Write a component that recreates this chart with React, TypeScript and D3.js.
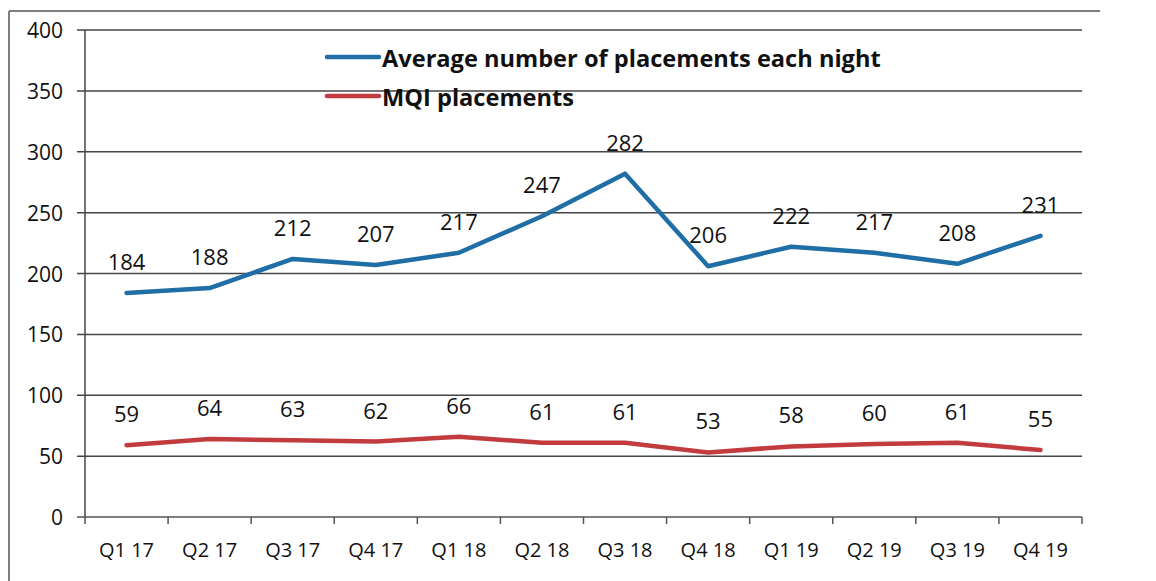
import * as d3 from "d3";

const quarters = ["Q1 17", "Q2 17", "Q3 17", "Q4 17", "Q1 18", "Q2 18", "Q3 18", "Q4 18", "Q1 19", "Q2 19", "Q3 19", "Q4 19"];
const avgPlacements = [184, 188, 212, 207, 217, 247, 282, 206, 222, 217, 208, 231];
const mqiPlacements = [59, 64, 63, 62, 66, 61, 61, 53, 58, 60, 61, 55];
const yTicks = [0, 50, 100, 150, 200, 250, 300, 350, 400];

const series = [
  { name: "Average number of placements each night", values: avgPlacements, color: "#1f6ea6" },
  { name: "MQI placements", values: mqiPlacements, color: "#c23b3e" },
];

const W = 1156;
const H = 581;
const FONT = "'Open Sans', Lato, 'Liberation Sans', sans-serif";

export default function App() {
  const left = 85;
  const right = 1082;
  const top = 30;
  const bottom = 517;

  const x = d3.scaleBand().domain(quarters).range([left, right]);
  const y = d3.scaleLinear().domain([0, 400]).range([bottom, top]);

  const line = d3
    .line<number>()
    .x((_, i) => (x(quarters[i]) as number) + x.bandwidth() / 2)
    .y((d) => y(d));

  return (
    <svg width={W} height={H} style={{ position: "absolute", left: 0, top: 0, background: "#fff" }}>
      {/* scanned page border */}
      <line x1={9} y1={11} x2={1100} y2={11} stroke="#555" strokeWidth={1.5} />
      <line x1={9} y1={11} x2={9} y2={H} stroke="#555" strokeWidth={1.5} />

      {/* grid */}
      {yTicks.map((t) => (
        <g key={t}>
          {t > 0 && (
            <line x1={left - 8} x2={right} y1={y(t)} y2={y(t)} stroke="#444" strokeWidth={1.5} />
          )}
          <text
            x={63}
            y={y(t)}
            textAnchor="end"
            dominantBaseline="central"
            fontFamily={FONT}
            fontSize={21}
            fill="#111"
          >
            {t}
          </text>
        </g>
      ))}

      {/* axes */}
      <line x1={left} x2={left} y1={top} y2={bottom} stroke="#444" strokeWidth={1.5} />
      <line x1={left - 8} x2={right} y1={bottom} y2={bottom} stroke="#555" strokeWidth={1.5} />
      {quarters.concat([""]).map((q, i) => {
        const xx = left + i * x.bandwidth();
        return <line key={i} x1={xx} x2={xx} y1={bottom} y2={bottom + 7} stroke="#555" strokeWidth={1.5} />;
      })}
      {quarters.map((q) => (
        <text
          key={q}
          x={(x(q) as number) + x.bandwidth() / 2}
          y={549}
          textAnchor="middle"
          dominantBaseline="central"
          fontFamily={FONT}
          fontSize={20}
          fill="#111"
        >
          {q}
        </text>
      ))}

      {/* lines */}
      {series.map((s) => (
        <path
          key={s.name}
          d={line(s.values) as string}
          fill="none"
          stroke={s.color}
          strokeWidth={4.5}
          strokeLinecap="round"
          strokeLinejoin="round"
        />
      ))}

      {/* data labels */}
      {series.map((s) =>
        s.values.map((v, i) => (
          <text
            key={s.name + i}
            x={(x(quarters[i]) as number) + x.bandwidth() / 2}
            y={y(v) - 32}
            textAnchor="middle"
            dominantBaseline="central"
            fontFamily={FONT}
            fontSize={22}
            fill="#111"
          >
            {v}
          </text>
        ))
      )}

      {/* legend */}
      {series.map((s, i) => (
        <g key={s.name} transform={`translate(327, ${57 + i * 39})`}>
          <line x1={0} x2={52} y1={0} y2={0} stroke={s.color} strokeWidth={4.5} strokeLinecap="round" />
          <text
            x={55}
            y={1}
            dominantBaseline="central"
            fontFamily={FONT}
            fontSize={23.6}
            fontWeight="bold"
            fill="#111"
          >
            {s.name}
          </text>
        </g>
      ))}
    </svg>
  );
}
